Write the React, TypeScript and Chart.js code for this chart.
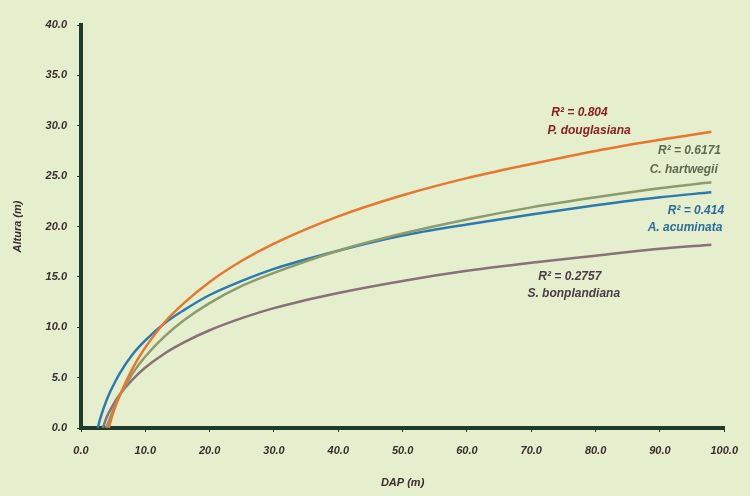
import React, { useEffect, useRef } from 'react';
import { Chart, registerables } from 'chart.js';

Chart.register(...registerables);

// X ticks 0..100 step 10, Y ticks 0..40 step 5
const xTicks = [0, 10, 20, 30, 40, 50, 60, 70, 80, 90, 100];
const yTicks = [0, 5, 10, 15, 20, 25, 30, 35, 40];

// P. douglasiana
const pDouglasianaX = [4.3, 5, 6, 8, 10, 13, 16, 20, 25, 30, 40, 50, 60, 70, 80, 90, 98];
const pDouglasianaY = [0, 1.5, 3.2, 5.9, 8.0, 10.5, 12.4, 14.5, 16.6, 18.3, 21.0, 23.1, 24.8, 26.2, 27.5, 28.6, 29.4];

// C. hartwegii
const cHartwegiiX = [3.9, 5, 6, 8, 10, 13, 16, 20, 25, 30, 40, 50, 60, 70, 80, 90, 98];
const cHartwegiiY = [0, 1.8, 3.2, 5.4, 7.1, 9.1, 10.7, 12.4, 14.1, 15.4, 17.6, 19.3, 20.7, 21.9, 22.9, 23.8, 24.4];

// A. acuminata
const aAcuminataX = [2.6, 3, 4, 5, 6, 8, 10, 13, 16, 20, 25, 30, 40, 50, 60, 70, 80, 90, 98];
const aAcuminataY = [0, 0.95, 2.8, 4.2, 5.4, 7.3, 8.7, 10.4, 11.7, 13.2, 14.6, 15.8, 17.6, 19.1, 20.2, 21.2, 22.1, 22.9, 23.4];

// S. bonplandiana
const sBonplandianaX = [3.4, 4, 5, 6, 8, 10, 13, 16, 20, 25, 30, 40, 50, 60, 70, 80, 90, 98];
const sBonplandianaY = [0, 1.1, 2.3, 3.3, 4.8, 6.0, 7.4, 8.5, 9.7, 10.9, 11.9, 13.4, 14.6, 15.6, 16.4, 17.1, 17.8, 18.2];

const seriesNames = ['P. douglasiana', 'C. hartwegii', 'A. acuminata', 'S. bonplandiana'];
const r2Labels = ['R² = 0.804', 'R² = 0.6171', 'R² = 0.414', 'R² = 0.2757'];

const lineColors = ['#e8772e', '#8c9c6c', '#2c7bb0', '#8a7078'];
const trendColors = ['#f4b080', '#eab090', '#b4bec2', '#b0c0c8'];
const labelColors = ['#8a1c1c', '#5e6a4e', '#2a6d9c', '#4a3c48'];

// label anchor positions in data coordinates: [r2x, r2y, namex, namey]
const labelPos = [
  [77.5, 31.3, 79.0, 29.5],
  [94.6, 27.5, 93.7, 25.6],
  [95.6, 21.6, 93.9, 19.9],
  [76.0, 15.0, 76.6, 13.3],
];

const xs = [pDouglasianaX, cHartwegiiX, aAcuminataX, sBonplandianaX];
const ys = [pDouglasianaY, cHartwegiiY, aAcuminataY, sBonplandianaY];

const BG = '#e5eecd';
const AXIS = '#1f3b29';
const TEXT = '#3a2c30';

const labelPlugin = {
  id: 'r2labels',
  afterDatasetsDraw(chart: any) {
    const ctx = chart.ctx;
    const sx = chart.scales.x;
    const sy = chart.scales.y;
    ctx.save();
    ctx.font = 'italic bold 12px "Liberation Sans"';
    ctx.textAlign = 'center';
    ctx.textBaseline = 'middle';
    labelPos.forEach((p, i) => {
      ctx.fillStyle = labelColors[i];
      ctx.fillText(r2Labels[i], sx.getPixelForValue(p[0]), sy.getPixelForValue(p[1]));
      ctx.fillText(seriesNames[i], sx.getPixelForValue(p[2]), sy.getPixelForValue(p[3]));
    });
    ctx.restore();
  },
};

export default function App() {
  const ref = useRef<HTMLCanvasElement>(null);
  useEffect(() => {
    document.body.style.margin = '0';
    document.body.style.background = BG;
    const datasets: any[] = [];
    xs.forEach((xArr, i) => {
      const pts = xArr.map((x, j) => ({ x, y: ys[i][j] }));
      datasets.push({
        label: seriesNames[i],
        data: pts,
        borderColor: lineColors[i],
        borderWidth: 2.5,
        pointRadius: 0,
        fill: false,
        cubicInterpolationMode: 'monotone',
      });
      datasets.push({
        label: seriesNames[i] + ' trend',
        data: pts,
        borderColor: trendColors[i],
        borderWidth: 1.2,
        borderDash: [3, 5],
        pointRadius: 0,
        fill: false,
        cubicInterpolationMode: 'monotone',
      });
    });
    const tickFont = { family: '"Liberation Sans"', size: 11, style: 'italic' as const, weight: 'bold' as const };
    const chart = new Chart(ref.current!, {
      type: 'line',
      data: { datasets },
      options: {
        responsive: false,
        animation: false,
        layout: { padding: { top: 25, right: 16, left: 0, bottom: 0 } },
        plugins: { legend: { display: false }, tooltip: { enabled: false } },
        scales: {
          x: {
            type: 'linear',
            min: 0,
            max: 100,
            afterBuildTicks: (s: any) => { s.ticks = xTicks.map((v) => ({ value: v })); },
            afterFit: (s: any) => { s.height = 68; },
            ticks: { font: tickFont, color: TEXT, padding: 12, maxRotation: 0, callback: (v: any) => Number(v).toFixed(1) },
            grid: { drawOnChartArea: false, drawTicks: true, tickLength: 4, color: AXIS, lineWidth: 1 },
            border: { color: AXIS, width: 4 },
            title: { display: true, text: 'DAP (m)', color: TEXT, font: tickFont, padding: { top: 0, bottom: 6 } },
          },
          y: {
            type: 'linear',
            min: 0,
            max: 40,
            afterBuildTicks: (s: any) => { s.ticks = yTicks.map((v) => ({ value: v })); },
            afterFit: (s: any) => { s.width = 81; },
            ticks: { font: tickFont, color: TEXT, padding: 10, callback: (v: any) => Number(v).toFixed(1) },
            grid: { drawOnChartArea: false, drawTicks: true, tickLength: 4, color: AXIS, lineWidth: 1 },
            border: { color: AXIS, width: 4 },
            title: { display: true, text: 'Altura (m)', color: TEXT, font: tickFont, padding: { top: 11, bottom: 0 } },
          },
        },
      },
      plugins: [labelPlugin],
    });
    return () => chart.destroy();
  }, []);
  return (
    <div style={{ width: 750, height: 496, background: BG }}>
      <canvas ref={ref} width={750} height={496} style={{ display: 'block' }} />
    </div>
  );
}
